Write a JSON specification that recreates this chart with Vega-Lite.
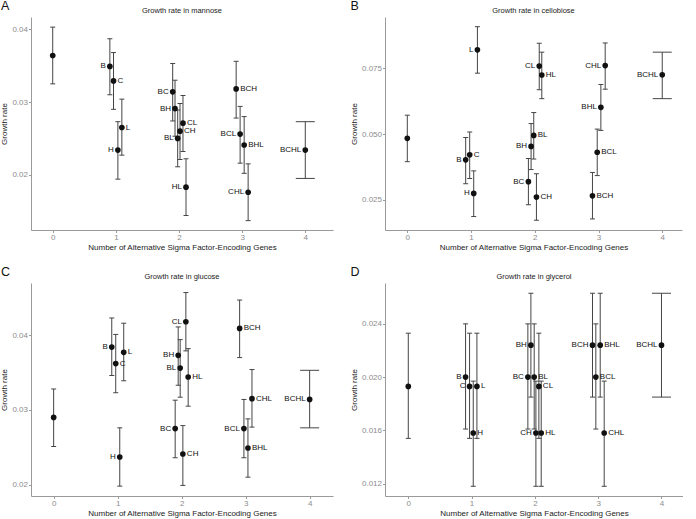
{
  "$schema": "https://vega.github.io/schema/vega-lite/v6.json",
  "padding": {"left": 0, "top": 0, "right": 0, "bottom": 0},
  "background": "white",
  "datasets": {
    "A": [
      {"label": "", "x": 0, "y": 0.0364, "lo": 0.0325, "hi": 0.0403},
      {"label": "B", "x": 0.905, "y": 0.0349, "lo": 0.0310, "hi": 0.0387},
      {"label": "C", "x": 0.963, "y": 0.0329, "lo": 0.0290, "hi": 0.0368},
      {"label": "L", "x": 1.095, "y": 0.0265, "lo": 0.0227, "hi": 0.0304},
      {"label": "H", "x": 1.032, "y": 0.0234, "lo": 0.0194, "hi": 0.0273},
      {"label": "BC", "x": 1.90, "y": 0.0314, "lo": 0.0274, "hi": 0.0353},
      {"label": "BH", "x": 1.937, "y": 0.0291, "lo": 0.0253, "hi": 0.0330},
      {"label": "CL", "x": 2.063, "y": 0.0271, "lo": 0.0232, "hi": 0.0309},
      {"label": "CH", "x": 2.016, "y": 0.0260, "lo": 0.0221, "hi": 0.0298},
      {"label": "BL", "x": 1.979, "y": 0.0250, "lo": 0.0211, "hi": 0.0289},
      {"label": "HL", "x": 2.111, "y": 0.0183, "lo": 0.0144, "hi": 0.0222},
      {"label": "BCH", "x": 2.905, "y": 0.0318, "lo": 0.0278, "hi": 0.0356},
      {"label": "BCL", "x": 2.968, "y": 0.0256, "lo": 0.0216, "hi": 0.0294},
      {"label": "BHL", "x": 3.032, "y": 0.0241, "lo": 0.0202, "hi": 0.0280},
      {"label": "CHL", "x": 3.095, "y": 0.0176, "lo": 0.0137, "hi": 0.0215},
      {"label": "BCHL", "x": 4, "y": 0.0234, "lo": 0.0195, "hi": 0.0273}
    ],
    "B": [
      {"label": "", "x": 0, "y": 0.0484, "lo": 0.0395, "hi": 0.0572},
      {"label": "L", "x": 1.10, "y": 0.0821, "lo": 0.0732, "hi": 0.0909},
      {"label": "B", "x": 0.916, "y": 0.0402, "lo": 0.0311, "hi": 0.0487},
      {"label": "C", "x": 0.979, "y": 0.0421, "lo": 0.0331, "hi": 0.0508},
      {"label": "H", "x": 1.042, "y": 0.0274, "lo": 0.0186, "hi": 0.0360},
      {"label": "CL", "x": 2.07, "y": 0.0759, "lo": 0.0669, "hi": 0.0846},
      {"label": "HL", "x": 2.11, "y": 0.0725, "lo": 0.0635, "hi": 0.0812},
      {"label": "BL", "x": 1.984, "y": 0.0495, "lo": 0.0405, "hi": 0.0582},
      {"label": "BH", "x": 1.942, "y": 0.0453, "lo": 0.0365, "hi": 0.0540},
      {"label": "BC", "x": 1.90, "y": 0.0319, "lo": 0.0231, "hi": 0.0407},
      {"label": "CH", "x": 2.026, "y": 0.0260, "lo": 0.0172, "hi": 0.0349},
      {"label": "CHL", "x": 3.105, "y": 0.0761, "lo": 0.0671, "hi": 0.0847},
      {"label": "BHL", "x": 3.037, "y": 0.0602, "lo": 0.0514, "hi": 0.0689},
      {"label": "BCL", "x": 2.98, "y": 0.0431, "lo": 0.0342, "hi": 0.0519},
      {"label": "BCH", "x": 2.905, "y": 0.0265, "lo": 0.0177, "hi": 0.0354},
      {"label": "BCHL", "x": 4, "y": 0.0726, "lo": 0.0635, "hi": 0.0812}
    ],
    "C": [
      {"label": "", "x": 0, "y": 0.0290, "lo": 0.0251, "hi": 0.0328},
      {"label": "B", "x": 0.908, "y": 0.0384, "lo": 0.0346, "hi": 0.0423},
      {"label": "C", "x": 0.97, "y": 0.0362, "lo": 0.0323, "hi": 0.0401},
      {"label": "L", "x": 1.095, "y": 0.0377, "lo": 0.0339, "hi": 0.0416},
      {"label": "H", "x": 1.033, "y": 0.0237, "lo": 0.0198, "hi": 0.0276},
      {"label": "CL", "x": 2.066, "y": 0.0418, "lo": 0.0379, "hi": 0.0457},
      {"label": "BH", "x": 1.946, "y": 0.0373, "lo": 0.0333, "hi": 0.0411},
      {"label": "BL", "x": 1.977, "y": 0.0356, "lo": 0.0317, "hi": 0.0394},
      {"label": "HL", "x": 2.102, "y": 0.0344, "lo": 0.0305, "hi": 0.0382},
      {"label": "BC", "x": 1.899, "y": 0.0275, "lo": 0.0236, "hi": 0.0313},
      {"label": "CH", "x": 2.019, "y": 0.0241, "lo": 0.0199, "hi": 0.0279},
      {"label": "BCH", "x": 2.906, "y": 0.0409, "lo": 0.0370, "hi": 0.0447},
      {"label": "CHL", "x": 3.099, "y": 0.0315, "lo": 0.0277, "hi": 0.0354},
      {"label": "BCL", "x": 2.973, "y": 0.0275, "lo": 0.0236, "hi": 0.0314},
      {"label": "BHL", "x": 3.036, "y": 0.0249, "lo": 0.0210, "hi": 0.0288},
      {"label": "BCHL", "x": 4, "y": 0.0314, "lo": 0.0276, "hi": 0.0353}
    ],
    "D": [
      {"label": "", "x": 0, "y": 0.0193, "lo": 0.0154, "hi": 0.0233},
      {"label": "B", "x": 0.905, "y": 0.0200, "lo": 0.0161, "hi": 0.0240},
      {"label": "C", "x": 0.968, "y": 0.0193, "lo": 0.0154, "hi": 0.0233},
      {"label": "L", "x": 1.084, "y": 0.0193, "lo": 0.0154, "hi": 0.0233},
      {"label": "H", "x": 1.026, "y": 0.0158, "lo": 0.0118, "hi": 0.0197},
      {"label": "BH", "x": 1.937, "y": 0.0224, "lo": 0.0185, "hi": 0.0263},
      {"label": "BC", "x": 1.889, "y": 0.0200, "lo": 0.0161, "hi": 0.0240},
      {"label": "BL", "x": 1.989, "y": 0.0200, "lo": 0.0161, "hi": 0.0240},
      {"label": "CL", "x": 2.063, "y": 0.0193, "lo": 0.0154, "hi": 0.0233},
      {"label": "CH", "x": 2.016, "y": 0.0158, "lo": 0.0118, "hi": 0.0197},
      {"label": "HL", "x": 2.1, "y": 0.0158, "lo": 0.0118, "hi": 0.0197},
      {"label": "BCH", "x": 2.91, "y": 0.0224, "lo": 0.0185, "hi": 0.0263},
      {"label": "BHL", "x": 3.032, "y": 0.0224, "lo": 0.0185, "hi": 0.0263},
      {"label": "BCL", "x": 2.963, "y": 0.0200, "lo": 0.0161, "hi": 0.0240},
      {"label": "CHL", "x": 3.095, "y": 0.0158, "lo": 0.0118, "hi": 0.0197},
      {"label": "BCHL", "x": 4, "y": 0.0224, "lo": 0.0185, "hi": 0.0263}
    ]
  },
  "columns": 2,
  "spacing": {"row": 14, "column": 17},
  "concat": [
    {
      "title": {"text": "A", "anchor": "start", "frame": "bounds", "fontSize": 12.5, "fontWeight": "normal", "offset": -6, "color": "#111"},
      "vconcat": [{
        "title": "Growth rate in mannose",
        "width": 302, "height": 213,
        "data": {"name": "A"},
        "encoding": {
          "x": {"field": "x", "type": "quantitative", "title": "Number of Alternative Sigma Factor-Encoding Genes", "scale": {"domain": [-0.344, 4.439], "nice": false, "zero": false}, "axis": {"values": [0, 1, 2, 3, 4], "format": "d"}},
          "y": {"field": "y", "type": "quantitative", "title": "Growth rate", "scale": {"domain": [0.01241, 0.04169], "nice": false, "zero": false}, "axis": {"values": [0.02, 0.03, 0.04], "format": ".2f"}}
        },
        "layer": [
          {"mark": {"type": "rule", "color": "#444", "strokeWidth": 1}, "encoding": {"y": {"field": "lo", "type": "quantitative", "title": "Growth rate"}, "y2": {"field": "hi"}}},
          {"mark": {"type": "tick", "orient": "horizontal", "color": "#444", "thickness": 1, "opacity": 1}, "encoding": {"y": {"field": "lo", "type": "quantitative", "title": "Growth rate"}, "size": {"condition": {"test": "datum.label === '' || datum.label === 'BCHL'", "value": 19}, "value": 5}}},
          {"mark": {"type": "tick", "orient": "horizontal", "color": "#444", "thickness": 1, "opacity": 1}, "encoding": {"y": {"field": "hi", "type": "quantitative", "title": "Growth rate"}, "size": {"condition": {"test": "datum.label === '' || datum.label === 'BCHL'", "value": 19}, "value": 5}}},
          {"mark": {"type": "circle", "color": "#111", "opacity": 1, "size": 32}},
          {"transform": [{"filter": {"field": "label", "oneOf": ["B", "H", "BC", "BH", "BL", "BCL", "HL", "CHL", "BCHL"]}}], "mark": {"type": "text", "align": "right", "baseline": "middle", "dx": -4, "fontSize": 8, "color": "#111"}, "encoding": {"text": {"field": "label"}}},
          {"transform": [{"filter": {"field": "label", "oneOf": ["C", "L", "CL", "CH", "BCH", "BHL"]}}], "mark": {"type": "text", "align": "left", "baseline": "middle", "dx": 4, "fontSize": 8, "color": "#111"}, "encoding": {"text": {"field": "label"}}}
        ]
      }]
    },
    {
      "title": {"text": "B", "anchor": "start", "frame": "bounds", "fontSize": 12.5, "fontWeight": "normal", "offset": -6, "color": "#111"},
      "vconcat": [{
        "title": "Growth rate in cellobiose",
        "width": 297, "height": 213,
        "data": {"name": "B"},
        "encoding": {
          "x": {"field": "x", "type": "quantitative", "title": "Number of Alternative Sigma Factor-Encoding Genes", "scale": {"domain": [-0.35, 4.31], "nice": false, "zero": false}, "axis": {"values": [0, 1, 2, 3, 4], "format": "d"}},
          "y": {"field": "y", "type": "quantitative", "title": "Growth rate", "scale": {"domain": [0.01348, 0.09459], "nice": false, "zero": false}, "axis": {"values": [0.025, 0.05, 0.075], "format": ".3f"}}
        },
        "layer": [
          {"mark": {"type": "rule", "color": "#444", "strokeWidth": 1}, "encoding": {"y": {"field": "lo", "type": "quantitative", "title": "Growth rate"}, "y2": {"field": "hi"}}},
          {"mark": {"type": "tick", "orient": "horizontal", "color": "#444", "thickness": 1, "opacity": 1}, "encoding": {"y": {"field": "lo", "type": "quantitative", "title": "Growth rate"}, "size": {"condition": {"test": "datum.label === '' || datum.label === 'BCHL'", "value": 19}, "value": 5}}},
          {"mark": {"type": "tick", "orient": "horizontal", "color": "#444", "thickness": 1, "opacity": 1}, "encoding": {"y": {"field": "hi", "type": "quantitative", "title": "Growth rate"}, "size": {"condition": {"test": "datum.label === '' || datum.label === 'BCHL'", "value": 19}, "value": 5}}},
          {"mark": {"type": "circle", "color": "#111", "opacity": 1, "size": 32}},
          {"transform": [{"filter": {"field": "label", "oneOf": ["L", "B", "H", "CL", "BH", "BC", "CHL", "BHL", "BCHL"]}}], "mark": {"type": "text", "align": "right", "baseline": "middle", "dx": -4, "fontSize": 8, "color": "#111"}, "encoding": {"text": {"field": "label"}}},
          {"transform": [{"filter": {"field": "label", "oneOf": ["C", "HL", "BL", "CH", "BCL", "BCH"]}}], "mark": {"type": "text", "align": "left", "baseline": "middle", "dx": 4, "fontSize": 8, "color": "#111"}, "encoding": {"text": {"field": "label"}}}
        ]
      }]
    },
    {
      "title": {"text": "C", "anchor": "start", "frame": "bounds", "fontSize": 12.5, "fontWeight": "normal", "offset": -6, "color": "#111"},
      "vconcat": [{
        "title": "Growth rate in glucose",
        "width": 302, "height": 213,
        "data": {"name": "C"},
        "encoding": {
          "x": {"field": "x", "type": "quantitative", "title": "Number of Alternative Sigma Factor-Encoding Genes", "scale": {"domain": [-0.354, 4.365], "nice": false, "zero": false}, "axis": {"values": [0, 1, 2, 3, 4], "format": "d"}},
          "y": {"field": "y", "type": "quantitative", "title": "Growth rate", "scale": {"domain": [0.01848, 0.04698], "nice": false, "zero": false}, "axis": {"values": [0.02, 0.03, 0.04], "format": ".2f"}}
        },
        "layer": [
          {"mark": {"type": "rule", "color": "#444", "strokeWidth": 1}, "encoding": {"y": {"field": "lo", "type": "quantitative", "title": "Growth rate"}, "y2": {"field": "hi"}}},
          {"mark": {"type": "tick", "orient": "horizontal", "color": "#444", "thickness": 1, "opacity": 1}, "encoding": {"y": {"field": "lo", "type": "quantitative", "title": "Growth rate"}, "size": {"condition": {"test": "datum.label === '' || datum.label === 'BCHL'", "value": 19}, "value": 5}}},
          {"mark": {"type": "tick", "orient": "horizontal", "color": "#444", "thickness": 1, "opacity": 1}, "encoding": {"y": {"field": "hi", "type": "quantitative", "title": "Growth rate"}, "size": {"condition": {"test": "datum.label === '' || datum.label === 'BCHL'", "value": 19}, "value": 5}}},
          {"mark": {"type": "circle", "color": "#111", "opacity": 1, "size": 32}},
          {"transform": [{"filter": {"field": "label", "oneOf": ["B", "H", "CL", "BH", "BL", "BC", "BCL", "BCHL"]}}], "mark": {"type": "text", "align": "right", "baseline": "middle", "dx": -4, "fontSize": 8, "color": "#111"}, "encoding": {"text": {"field": "label"}}},
          {"transform": [{"filter": {"field": "label", "oneOf": ["C", "L", "HL", "CH", "BCH", "CHL", "BHL"]}}], "mark": {"type": "text", "align": "left", "baseline": "middle", "dx": 4, "fontSize": 8, "color": "#111"}, "encoding": {"text": {"field": "label"}}}
        ]
      }]
    },
    {
      "title": {"text": "D", "anchor": "start", "frame": "bounds", "fontSize": 12.5, "fontWeight": "normal", "offset": -6, "color": "#111"},
      "vconcat": [{
        "title": "Growth rate in glycerol",
        "width": 298, "height": 213,
        "data": {"name": "D"},
        "encoding": {
          "x": {"field": "x", "type": "quantitative", "title": "Number of Alternative Sigma Factor-Encoding Genes", "scale": {"domain": [-0.368, 4.34], "nice": false, "zero": false}, "axis": {"values": [0, 1, 2, 3, 4], "format": "d"}},
          "y": {"field": "y", "type": "quantitative", "title": "Growth rate", "scale": {"domain": [0.01107, 0.02707], "nice": false, "zero": false}, "axis": {"values": [0.012, 0.016, 0.02, 0.024], "format": ".3f"}}
        },
        "layer": [
          {"mark": {"type": "rule", "color": "#444", "strokeWidth": 1}, "encoding": {"y": {"field": "lo", "type": "quantitative", "title": "Growth rate"}, "y2": {"field": "hi"}}},
          {"mark": {"type": "tick", "orient": "horizontal", "color": "#444", "thickness": 1, "opacity": 1}, "encoding": {"y": {"field": "lo", "type": "quantitative", "title": "Growth rate"}, "size": {"condition": {"test": "datum.label === '' || datum.label === 'BCHL'", "value": 19}, "value": 5}}},
          {"mark": {"type": "tick", "orient": "horizontal", "color": "#444", "thickness": 1, "opacity": 1}, "encoding": {"y": {"field": "hi", "type": "quantitative", "title": "Growth rate"}, "size": {"condition": {"test": "datum.label === '' || datum.label === 'BCHL'", "value": 19}, "value": 5}}},
          {"mark": {"type": "circle", "color": "#111", "opacity": 1, "size": 32}},
          {"transform": [{"filter": {"field": "label", "oneOf": ["B", "C", "BH", "BC", "CH", "BCH", "BCHL"]}}], "mark": {"type": "text", "align": "right", "baseline": "middle", "dx": -4, "fontSize": 8, "color": "#111"}, "encoding": {"text": {"field": "label"}}},
          {"transform": [{"filter": {"field": "label", "oneOf": ["L", "H", "BL", "CL", "HL", "BHL", "BCL", "CHL"]}}], "mark": {"type": "text", "align": "left", "baseline": "middle", "dx": 4, "fontSize": 8, "color": "#111"}, "encoding": {"text": {"field": "label"}}}
        ]
      }]
    }
  ],
  "config": {
    "font": "Liberation Sans",
    "view": {"stroke": null},
    "axis": {"grid": false, "domainColor": "#9a9a9a", "tickColor": "#9a9a9a", "labelColor": "#8c8c8c", "labelFontSize": 8, "titleFontSize": 8, "titleFontWeight": "normal", "titleColor": "#222", "tickSize": 2.5, "labelPadding": 1, "labelFont": "Liberation Sans", "titleFont": "Liberation Sans"},
    "axisY": {"titlePadding": 3},
    "axisX": {"titlePadding": 2},
    "title": {"fontSize": 7.5, "fontWeight": "normal", "font": "Liberation Sans", "anchor": "middle", "frame": "group", "offset": 3, "color": "#222"}
  }
}
